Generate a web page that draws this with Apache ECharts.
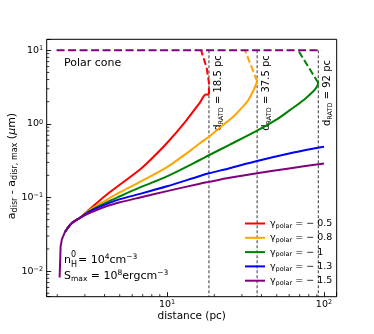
<!DOCTYPE html>
<html>
<head>
<meta charset="utf-8">
<title>Polar cone</title>
<script src="https://cdn.jsdelivr.net/npm/echarts@6.0.0/dist/echarts.min.js"></script>
<style>
    html, body {margin: 0; padding: 0; background: #fff;}
    #main {width: 374px; height: 334px;}
</style>
</head>
<body>
<div id="main"></div>
<script>
// shared start of every curve (the steep rise near 2 pc)
var startDist = [2.07, 2.09, 2.10, 2.14, 2.24];
var startA = [0.0082, 0.015, 0.0215, 0.027, 0.034];

// solid parts, gamma = -0.5 ... -1.5 (each starts where the shared rise ends)
var redDist = [2.24, 2.47, 2.79, 3.23, 4.03, 5.02, 6.73, 7.8, 10, 13.3, 16.2, 17.7, 18.5];
var redA = [0.034, 0.0446, 0.053, 0.070, 0.105, 0.15, 0.24, 0.32, 0.55, 1.12, 1.95, 2.5, 2.5];
var orangeDist = [2.24, 2.47, 2.79, 3.23, 4.03, 5.02, 6.73, 10, 14, 16.2, 18.5, 22, 26.4, 30, 33, 36.4, 37.5];
var orangeA = [0.034, 0.0446, 0.053, 0.068, 0.090, 0.118, 0.163, 0.258, 0.43, 0.545, 0.67, 0.91, 1.25, 1.66, 2.11, 3.2, 3.79];
var greenDist = [2.24, 2.47, 2.79, 3.23, 4.03, 5.02, 6.73, 10, 16.2, 18.5, 25, 37.5, 50, 60.7, 75, 85.5, 90, 92];
var greenA = [0.034, 0.0446, 0.053, 0.066, 0.084, 0.104, 0.137, 0.194, 0.323, 0.375, 0.52, 0.81, 1.15, 1.54, 2.15, 2.77, 3.2, 3.59];
var blueDist = [2.24, 2.47, 2.79, 3.23, 4.03, 5.02, 6.73, 10, 16.2, 18.5, 25, 37.5, 60, 92, 100];
var blueA = [0.034, 0.0446, 0.053, 0.065, 0.080, 0.095, 0.112, 0.142, 0.196, 0.213, 0.25, 0.313, 0.395, 0.475, 0.49];
var purpleDist = [2.24, 2.47, 2.79, 3.23, 4.03, 5.02, 6.73, 10, 16.2, 18.5, 25, 37.5, 60, 92, 100];
var purpleA = [0.034, 0.0446, 0.053, 0.062, 0.075, 0.086, 0.100, 0.122, 0.154, 0.163, 0.185, 0.214, 0.248, 0.283, 0.29];

// dashed parts (after d_RATD, up to a_max)
var redDashDist = [18.5, 18.5, 17.9, 16.5];
var redDashA = [2.5, 3.6, 5.75, 10];
var orangeDashDist = [37.5, 31.4];
var orangeDashA = [3.79, 10];
var greenDashDist = [92, 68.5];
var greenDashA = [3.59, 10];
var topDashDist = [1.98, 96];
var topDashA = [10, 10];

// RATD distances
var ratdDist = [18.5, 37.5, 92];
var ratdText = ['18.5', '37.5', '92'];

var gammaNames = ['−0.5', '−0.8', '−1', '−1.3', '−1.5'];
var colors = ['#ff0000', '#ffa500', '#008000', '#0000ff', '#800080'];

// minor tick values
var minorX = [2, 3, 4, 5, 6, 7, 8, 9, 20, 30, 40, 50, 60, 70, 80, 90];
var minorY = [0.005, 0.006, 0.007, 0.008, 0.009, 0.02, 0.03, 0.04, 0.05, 0.06, 0.07, 0.08, 0.09,
    0.2, 0.3, 0.4, 0.5, 0.6, 0.7, 0.8, 0.9, 2, 3, 4, 5, 6, 7, 8, 9];

var X_MIN = 1.713, X_MAX = 120.5, Y_MIN = 0.00449, Y_MAX = 14.1;
var FONT = 'DejaVu Sans';

var chartPage = {
    init: function () {
        var chart = echarts.init(document.getElementById('main'), null, {renderer: 'canvas'});
        chart.setOption(this.eChartOpts());
        this.addNotes(chart);
    },
    zip: function (xs, ys) {
        var out = [];
        for (var i = 0; i < xs.length; i++) {
            out.push([xs[i], ys[i]]);
        }
        return out;
    },
    powLabel: function (value) {
        var e = Math.round(Math.log(value) / Math.LN10);
        if (Math.abs(Math.pow(10, e) - value) > value * 1e-6) {
            return '';
        }
        return '{b|10}{sup|' + (e < 0 ? '−' + (-e) : e) + '}';
    },
    minorTicks: function (values, onX) {
        return {
            type: 'custom',
            silent: true,
            clip: false,
            z: 10,
            data: values.map(function (v) { return onX ? [v, 1] : [10, v]; }),
            renderItem: function (params, api) {
                var p = api.coord([api.value(0), api.value(1)]);
                var cs = params.coordSys;
                var shape;
                if (onX) {
                    var bottom = cs.y + cs.height;
                    shape = {x1: p[0], y1: bottom, x2: p[0], y2: bottom - 2.6};
                } else {
                    shape = {x1: cs.x, y1: p[1], x2: cs.x + 2.6, y2: p[1]};
                }
                return {type: 'line', shape: shape, style: {stroke: '#000', lineWidth: 0.8}};
            }
        };
    },
    eChartOpts: function () {
        var _this = this;
        var tickRich = {
            b: {fontFamily: FONT, fontSize: 9.5, color: '#000', lineHeight: 11},
            sup: {fontFamily: FONT, fontSize: 6.5, color: '#000', lineHeight: 5, verticalAlign: 'top'}
        };
        var series = [];
        // vertical RATD lines
        ratdDist.forEach(function (d) {
            series.push({
                type: 'line', silent: true, showSymbol: false, z: 1,
                data: _this.zip([d, d], [10, Y_MIN]),
                lineStyle: {color: '#000', width: 0.8, type: [3, 2]}
            });
        });
        var solids = [[redDist, redA], [orangeDist, orangeA], [greenDist, greenA], [blueDist, blueA], [purpleDist, purpleA]];
        var dashes = [[redDashDist, redDashA], [orangeDashDist, orangeDashA], [greenDashDist, greenDashA]];
        solids.forEach(function (s, i) {
            series.push({
                name: gammaNames[i], type: 'line', showSymbol: false, z: 3 + i,
                smooth: 0.3,
                data: _this.zip(s[0], s[1]),
                itemStyle: {color: colors[i]},
                lineStyle: {color: colors[i], width: 2, join: 'round'}
            });
            if (dashes[i]) {
                series.push({
                    type: 'line', showSymbol: false, z: 3 + i,
                    data: _this.zip(dashes[i][0], dashes[i][1]),
                    lineStyle: {color: colors[i], width: 2, type: [7, 3]}
                });
            }
        });
        // shared steep rise, drawn once on top in purple
        series.push({
            type: 'line', showSymbol: false, z: 8,
            data: _this.zip(startDist, startA),
            lineStyle: {color: colors[4], width: 2, join: 'round'}
        });
        series.push({
            type: 'line', showSymbol: false, z: 9,
            data: _this.zip(topDashDist, topDashA),
            lineStyle: {color: colors[4], width: 2, type: [8, 3.5]}
        });
        series.push(this.minorTicks(minorX, true));
        series.push(this.minorTicks(minorY, false));

        return {
            animation: false,
            backgroundColor: '#fff',
            grid: {
                left: 46.7, top: 39.3, right: 37.3, bottom: 37.3,
                containLabel: false, outerBoundsMode: 'none',
                show: true, borderColor: '#000', borderWidth: 1, backgroundColor: 'transparent'
            },
            legend: {
                orient: 'vertical', left: 240, top: 213.5,
                itemWidth: 20, itemHeight: 2, itemGap: 3.3, icon: 'rect',
                data: gammaNames,
                formatter: function (name) {
                    return '{g|γ}{s|polar}{g| = − ' + name.replace('−', '') + '}';
                },
                textStyle: {
                    rich: {
                        g: {fontFamily: FONT, fontSize: 9.5, color: '#000', lineHeight: 12},
                        s: {fontFamily: FONT, fontSize: 6.5, color: '#000', lineHeight: 6, verticalAlign: 'bottom'}
                    }
                }
            },
            xAxis: {
                type: 'log', logBase: 10, min: X_MIN, max: X_MAX,
                axisLine: {show: false},
                axisTick: {inside: true, length: 4.5, lineStyle: {color: '#000', width: 0.9}},
                axisLabel: {margin: 2.5, formatter: function (v) { return _this.powLabel(v); }, rich: tickRich},
                splitLine: {show: false}
            },
            yAxis: {
                type: 'log', logBase: 10, min: Y_MIN, max: Y_MAX,
                axisLine: {show: false},
                axisTick: {inside: true, length: 4.5, lineStyle: {color: '#000', width: 0.9}},
                axisLabel: {margin: 3.5, formatter: function (v) { return _this.powLabel(v); }, rich: tickRich},
                splitLine: {show: false}
            },
            series: series
        };
    },
    addNotes: function (chart) {
        var rich = {
            b: {fontFamily: FONT, fontSize: 11, color: '#000', lineHeight: 14},
            sup: {fontFamily: FONT, fontSize: 7.5, color: '#000', lineHeight: 7, verticalAlign: 'top'},
            sub: {fontFamily: FONT, fontSize: 7.5, color: '#000', lineHeight: 7, verticalAlign: 'bottom'},
            d: {fontFamily: FONT, fontSize: 10, color: '#000', lineHeight: 13},
            ds: {fontFamily: FONT, fontSize: 6.5, color: '#000', lineHeight: 6, verticalAlign: 'bottom'},
            m: {fontFamily: FONT, fontSize: 11, color: '#000', lineHeight: 14, fontStyle: 'italic'},
            ys: {fontFamily: FONT, fontSize: 8, color: '#000', lineHeight: 8, verticalAlign: 'bottom'}
        };
        var els = [
            // axis titles
            {type: 'text', x: 191.7, y: 316, style: {text: 'distance (pc)', font: '10.5px ' + FONT, fill: '#000', align: 'center', verticalAlign: 'middle'}},
            {type: 'text', x: 12, y: 166, rotation: Math.PI / 2, style: {
                text: '{b|a}{ys|disr}{b| - a}{ys|disr, max}{b| (}{m|μ}{b|m)}',
                rich: rich, align: 'center', verticalAlign: 'middle'
            }},
            {type: 'text', x: 64, y: 62.7, style: {text: 'Polar cone', font: '11px ' + FONT, fill: '#000', verticalAlign: 'middle'}},
            // n_H^0 (stacked sub/sup done by hand)
            {type: 'text', x: 64, y: 260, style: {text: '{b|n}', rich: rich, verticalAlign: 'middle'}},
            {type: 'text', x: 71, y: 255, style: {text: '0', font: '8px ' + FONT, fill: '#000', verticalAlign: 'middle'}},
            {type: 'text', x: 71, y: 265, style: {text: 'H', font: '8px ' + FONT, fill: '#000', verticalAlign: 'middle'}},
            {type: 'text', x: 78, y: 260, style: {text: '{b|= 10}{sup|4}{b|cm}{sup|−3}', rich: rich, verticalAlign: 'middle'}},
            {type: 'text', x: 64, y: 276.5, style: {text: '{b|S}{sub|max}{b| = 10}{sup|8}{b|ergcm}{sup|−3}', rich: rich, verticalAlign: 'middle'}}
        ];
        for (var i = 0; i < ratdDist.length; i++) {
            var p = chart.convertToPixel({gridIndex: 0}, [ratdDist[i], 1]);
            els.push({
                type: 'text', x: p[0] + 9, y: 93, rotation: Math.PI / 2,
                style: {
                    text: '{d|d}{ds|RATD}{d| = ' + ratdText[i] + ' pc}',
                    rich: rich, align: 'center', verticalAlign: 'middle'
                }
            });
        }
        chart.setOption({graphic: {elements: els}});
    }
};

window.addEventListener('DOMContentLoaded', function () {
    chartPage.init();
});
</script>
</body>
</html>
